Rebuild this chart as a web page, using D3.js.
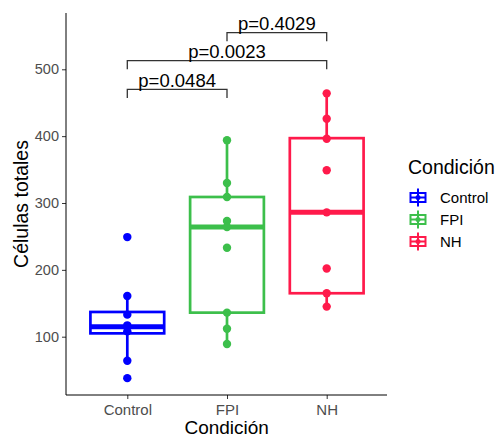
<!DOCTYPE html>
<html><head><meta charset="utf-8">
<script src="https://cdn.jsdelivr.net/npm/d3@7"></script>
<style>body{margin:0;background:#fff;} text{font-family:"Liberation Sans",Arial,sans-serif;}</style>
</head><body>
<svg id="c" width="499" height="438"></svg>
<script>
const categories = ["Control", "FPI", "NH"];
const colors = ["#0000FF", "#3CBF4B", "#FF1A4B"];
const controlValues = [249, 161, 133, 117, 108, 64, 38];
const fpiValues = [394, 330, 309, 273, 264, 233, 136, 112, 89];
const nhValues = [464, 426, 396, 349, 286, 202, 165, 145];
const q1 = [105, 136, 165];
const median = [115, 264, 286];
const q3 = [137, 309, 397];
const whiskerLow = [64, 89, 145];
const whiskerHigh = [161, 394, 464];
const yTicks = [100, 200, 300, 400, 500];
const bracketFrom = ["Control", "Control", "FPI"];
const bracketTo = ["FPI", "NH", "NH"];
const bracketY = [470, 513, 555];
const pLabels = ["p=0.0484", "p=0.0023", "p=0.4029"];

const groupValues = [controlValues, fpiValues, nhValues];
const svg = d3.select("#c");
const x = d3.scalePoint().domain(categories).range([127.3, 326.7]);
const step = x.step();
const y = d3.scaleLinear().domain([100, 500]).range([336.7, 69.3]);
const plotTop = 13, plotBottom = 395, plotLeft = 66, plotRight = 387;

// axes
const yAxis = d3.axisLeft(y).tickValues(yTicks).tickSize(4).tickPadding(3);
const gy = svg.append("g").attr("transform", `translate(${plotLeft},0)`).call(yAxis);
gy.select(".domain").remove();
gy.selectAll("line").attr("stroke", "#333").attr("stroke-width", 1);
gy.selectAll("text").attr("fill", "#4d4d4d").style("font-size", "14.5px").attr("font-family", "Liberation Sans, Arial, sans-serif");
svg.append("line").attr("x1", plotLeft).attr("x2", plotLeft).attr("y1", plotTop).attr("y2", plotBottom).attr("stroke", "#000").attr("stroke-width", 1);

const xAxis = d3.axisBottom(x).tickSize(4).tickPadding(5);
const gx = svg.append("g").attr("transform", `translate(0,${plotBottom})`).call(xAxis);
gx.select(".domain").remove();
gx.selectAll("line").attr("stroke", "#333").attr("stroke-width", 1);
gx.selectAll("text").attr("fill", "#4d4d4d").style("font-size", "15px").attr("font-family", "Liberation Sans, Arial, sans-serif");
svg.append("line").attr("x1", plotLeft).attr("x2", plotRight).attr("y1", plotBottom).attr("y2", plotBottom).attr("stroke", "#000").attr("stroke-width", 1);

// boxplots
const bw = step * 0.74;
categories.forEach((c, i) => {
  const g = svg.append("g");
  const cx = x(c);
  g.append("line").attr("x1", cx).attr("x2", cx).attr("y1", y(q3[i])).attr("y2", y(whiskerHigh[i]))
    .attr("stroke", colors[i]).attr("stroke-width", 2.7);
  g.append("line").attr("x1", cx).attr("x2", cx).attr("y1", y(q1[i])).attr("y2", y(whiskerLow[i]))
    .attr("stroke", colors[i]).attr("stroke-width", 2.7);
  g.append("rect").attr("x", cx - bw / 2).attr("width", bw).attr("y", y(q3[i])).attr("height", y(q1[i]) - y(q3[i]))
    .attr("fill", "none").attr("stroke", colors[i]).attr("stroke-width", 2.7);
  g.append("line").attr("x1", cx - bw / 2).attr("x2", cx + bw / 2).attr("y1", y(median[i])).attr("y2", y(median[i]))
    .attr("stroke", colors[i]).attr("stroke-width", 5);
  g.selectAll("circle").data(groupValues[i]).enter().append("circle")
    .attr("cx", cx).attr("cy", d => y(d)).attr("r", 4.2).attr("fill", colors[i]);
});

// significance brackets
const tip = 13;
bracketY.forEach((b, i) => {
  const x1 = x(bracketFrom[i]), x2 = x(bracketTo[i]);
  const path = d3.path();
  path.moveTo(x1, y(b - tip)); path.lineTo(x1, y(b)); path.lineTo(x2, y(b)); path.lineTo(x2, y(b - tip));
  svg.append("path").attr("d", path.toString()).attr("fill", "none").attr("stroke", "#333").attr("stroke-width", 1.3);
  svg.append("text").attr("x", (x1 + x2) / 2).attr("y", y(b) - 2.8).attr("text-anchor", "middle")
    .style("font-size", "18.5px").attr("fill", "#000").text(pLabels[i]);
});

// axis titles
svg.append("text").attr("x", 226.7).attr("y", 434).attr("text-anchor", "middle")
  .style("font-size", "19px").attr("fill", "#000").text("Condición");
svg.append("text").attr("transform", "translate(28,204) rotate(-90)").attr("text-anchor", "middle")
  .style("font-size", "19.5px").attr("fill", "#000").text("Células totales");

// legend
const lg = svg.append("g");
lg.append("text").attr("x", 408).attr("y", 174).style("font-size", "19.5px").attr("fill", "#000").text("Condición");
categories.forEach((c, i) => {
  const cy = 197.5 + i * 22;
  const kx = 418;
  lg.append("line").attr("x1", kx).attr("x2", kx).attr("y1", cy - 9).attr("y2", cy + 9).attr("stroke", colors[i]).attr("stroke-width", 2);
  lg.append("rect").attr("x", kx - 7.5).attr("y", cy - 4.5).attr("width", 15).attr("height", 9)
    .attr("fill", "#fff").attr("stroke", colors[i]).attr("stroke-width", 2);
  lg.append("line").attr("x1", kx - 7.5).attr("x2", kx + 7.5).attr("y1", cy).attr("y2", cy).attr("stroke", colors[i]).attr("stroke-width", 2);
  lg.append("line").attr("x1", kx).attr("x2", kx).attr("y1", cy - 4.5).attr("y2", cy + 4.5).attr("stroke", colors[i]).attr("stroke-width", 2);
  lg.append("circle").attr("cx", kx).attr("cy", cy).attr("r", 2.5).attr("fill", colors[i]);
  lg.append("text").attr("x", 440).attr("y", cy).attr("dy", "0.35em").style("font-size", "15px").attr("fill", "#000").text(c);
});
</script>
</body></html>
